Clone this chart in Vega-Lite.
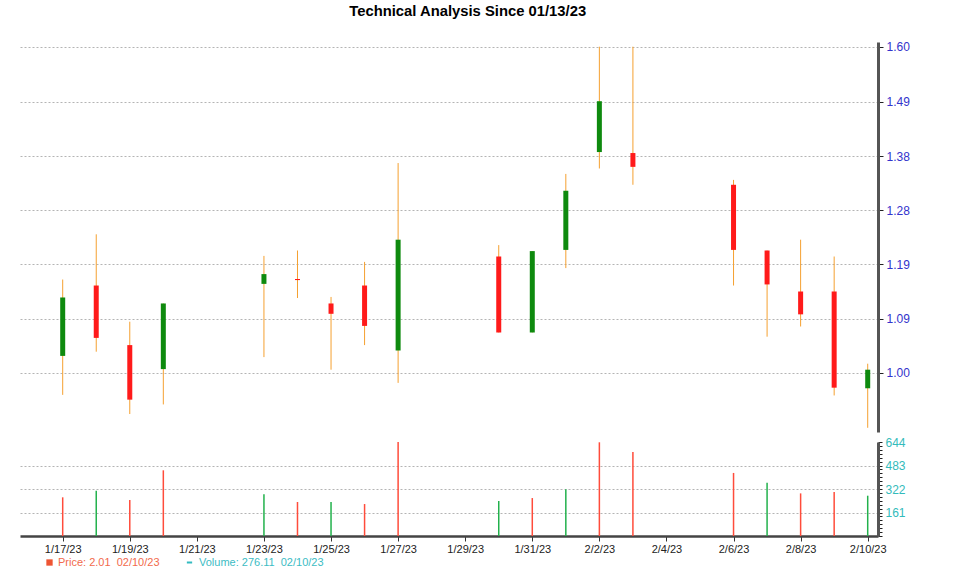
{
  "$schema": "https://vega.github.io/schema/vega-lite/v6.json",
  "background": "white",
  "padding": {"left": 20, "top": 3, "right": 10, "bottom": 6},
  "title": {"text": "Technical Analysis Since 01/13/23", "font": "Liberation Sans", "fontSize": 14.8, "fontWeight": "bold", "color": "#000000", "anchor": "middle", "dx": 3, "offset": 22},
  "config": {"font": "Liberation Sans", "view": {"stroke": null}},
  "spacing": 4,
  "datasets": {
    "candles": [
      {"date": "2023-01-17T00:00:00", "open": 1.028, "high": 1.162, "low": 0.963, "close": 1.129, "dir": "up", "vol": 265, "vdir": "down"},
      {"date": "2023-01-18T00:00:00", "open": 1.151, "high": 1.240, "low": 1.035, "close": 1.058, "dir": "down", "vol": 310, "vdir": "up"},
      {"date": "2023-01-19T00:00:00", "open": 1.046, "high": 1.085, "low": 0.931, "close": 0.955, "dir": "down", "vol": 247, "vdir": "down"},
      {"date": "2023-01-20T00:00:00", "open": 1.006, "high": 1.118, "low": 0.947, "close": 1.118, "dir": "up", "vol": 450, "vdir": "down"},
      {"date": "2023-01-23T00:00:00", "open": 1.154, "high": 1.204, "low": 1.026, "close": 1.172, "dir": "up", "vol": 286, "vdir": "up"},
      {"date": "2023-01-24T00:00:00", "open": 1.163, "high": 1.213, "low": 1.128, "close": 1.161, "dir": "down", "vol": 233, "vdir": "down"},
      {"date": "2023-01-25T00:00:00", "open": 1.118, "high": 1.130, "low": 1.005, "close": 1.099, "dir": "down", "vol": 233, "vdir": "up"},
      {"date": "2023-01-26T00:00:00", "open": 1.151, "high": 1.194, "low": 1.046, "close": 1.078, "dir": "down", "vol": 219, "vdir": "down"},
      {"date": "2023-01-27T00:00:00", "open": 1.037, "high": 1.367, "low": 0.983, "close": 1.231, "dir": "up", "vol": 644, "vdir": "down"},
      {"date": "2023-01-30T00:00:00", "open": 1.203, "high": 1.222, "low": 1.067, "close": 1.067, "dir": "down", "vol": 240, "vdir": "up"},
      {"date": "2023-01-31T00:00:00", "open": 1.067, "high": 1.212, "low": 1.067, "close": 1.212, "dir": "up", "vol": 260, "vdir": "down"},
      {"date": "2023-02-01T00:00:00", "open": 1.214, "high": 1.347, "low": 1.183, "close": 1.316, "dir": "up", "vol": 320, "vdir": "up"},
      {"date": "2023-02-02T00:00:00", "open": 1.388, "high": 1.600, "low": 1.357, "close": 1.491, "dir": "up", "vol": 642, "vdir": "down"},
      {"date": "2023-02-03T00:00:00", "open": 1.386, "high": 1.600, "low": 1.327, "close": 1.360, "dir": "down", "vol": 575, "vdir": "down"},
      {"date": "2023-02-06T00:00:00", "open": 1.327, "high": 1.336, "low": 1.151, "close": 1.214, "dir": "down", "vol": 432, "vdir": "down"},
      {"date": "2023-02-07T00:00:00", "open": 1.213, "high": 1.213, "low": 1.060, "close": 1.153, "dir": "down", "vol": 365, "vdir": "up"},
      {"date": "2023-02-08T00:00:00", "open": 1.140, "high": 1.231, "low": 1.077, "close": 1.098, "dir": "down", "vol": 292, "vdir": "down"},
      {"date": "2023-02-09T00:00:00", "open": 1.140, "high": 1.203, "low": 0.962, "close": 0.975, "dir": "down", "vol": 301, "vdir": "down"},
      {"date": "2023-02-10T00:00:00", "open": 0.974, "high": 1.015, "low": 0.908, "close": 1.005, "dir": "up", "vol": 276.11, "vdir": "up"}
    ]
  },
  "vconcat": [
    {
      "width": 858,
      "height": 390,
      "data": {"name": "candles"},
      "encoding": {
        "x": {"field": "date", "type": "temporal", "axis": null,
          "scale": {"domain": [{"year": 2023, "month": 1, "date": 15, "hours": 17, "minutes": 27}, {"year": 2023, "month": 2, "date": 10, "hours": 7, "minutes": 22}]}}
      },
      "layer": [
        {
          "mark": {"type": "rule", "color": "#f5a030", "strokeWidth": 1},
          "encoding": {
            "y": {"field": "low", "type": "quantitative",
              "scale": {"type": "linear", "nice": false, "zero": false,
                "domain": [0.901, 1.00, 1.09, 1.19, 1.28, 1.38, 1.49, 1.60, 1.6094],
                "range": [390, 330.7, 276.7, 222.3, 168.3, 114, 59.7, 4.7, 0]},
              "axis": {"orient": "right", "title": null, "values": [1.00, 1.09, 1.19, 1.28, 1.38, 1.49, 1.60], "format": ".2f",
                "domainColor": "#555555", "domainWidth": 3, "tickColor": "#222222", "tickSize": 5, "tickWidth": 1,
                "labelColor": "#3333cc", "labelFontSize": 12, "labelPadding": 3, "labelFont": "Liberation Sans",
                "grid": true, "gridColor": "#b4b4b4", "gridDash": [2, 2], "gridWidth": 1}},
            "y2": {"field": "high"}
          }
        },
        {
          "mark": {"type": "rule", "strokeWidth": 5},
          "encoding": {
            "y": {"field": "open", "type": "quantitative"},
            "y2": {"field": "close"},
            "color": {"condition": {"test": "datum.dir === 'up'", "value": "#0e8a0e"}, "value": "#ff1a1a"}
          }
        }
      ]
    },
    {
      "width": 858,
      "height": 94,
      "layer": [
        {
          "data": {"name": "candles"},
          "mark": {"type": "rule", "strokeWidth": 1.5},
          "encoding": {
            "x": {"field": "date", "type": "temporal",
              "scale": {"domain": [{"year": 2023, "month": 1, "date": 15, "hours": 17, "minutes": 27}, {"year": 2023, "month": 2, "date": 10, "hours": 7, "minutes": 22}]},
              "axis": {"title": null, "format": "%-m/%-d/%y",
                "values": [
                  {"year": 2023, "month": 1, "date": 17}, {"year": 2023, "month": 1, "date": 19}, {"year": 2023, "month": 1, "date": 21},
                  {"year": 2023, "month": 1, "date": 23}, {"year": 2023, "month": 1, "date": 25}, {"year": 2023, "month": 1, "date": 27},
                  {"year": 2023, "month": 1, "date": 29}, {"year": 2023, "month": 1, "date": 31}, {"year": 2023, "month": 2, "date": 2},
                  {"year": 2023, "month": 2, "date": 4}, {"year": 2023, "month": 2, "date": 6}, {"year": 2023, "month": 2, "date": 8},
                  {"year": 2023, "month": 2, "date": 10}],
                "domainColor": "#444444", "domainWidth": 2.5, "tickColor": "#333333", "tickSize": 5, "tickWidth": 1,
                "labelColor": "#222222", "labelFontSize": 11, "labelPadding": 2, "labelFlush": false, "labelFont": "Liberation Sans", "grid": false}},
            "y": {"field": "vol", "type": "quantitative",
              "scale": {"domain": [0, 644], "nice": false},
              "axis": {"orient": "right", "title": null,
                "values": [0, 26.83, 53.67, 80.5, 107.33, 134.17, 161, 187.83, 214.67, 241.5, 268.33, 295.17, 322, 348.83, 375.67, 402.5, 429.33, 456.17, 483, 509.83, 536.67, 563.5, 590.33, 617.17, 644],
                "labelExpr": "indexof([161, 322, 483, 644], datum.value) >= 0 ? datum.label : ''",
                "domainColor": "#555555", "domainWidth": 3, "tickColor": "#222222", "tickSize": 4, "tickWidth": 1,
                "labelColor": "#33bbbb", "labelFontSize": 12, "labelPadding": 3, "labelFont": "Liberation Sans",
                "grid": true, "gridColor": "#b4b4b4", "gridDash": [2, 2], "gridWidth": 1,
                "gridOpacity": {"condition": {"test": "indexof([161, 322, 483], datum.value) >= 0", "value": 1}, "value": 0}}},
            "y2": {"datum": 0},
            "color": {"condition": {"test": "datum.vdir === 'up'", "value": "#22b14c"}, "value": "#ff4c3b"}
          }
        },
        {
          "data": {"values": [{"series": "Price: 2.01\u00a0\u00a002/10/23"}]},
          "mark": {"type": "point", "filled": true, "opacity": 0, "size": 40},
          "encoding": {
            "color": {"field": "series", "type": "nominal",
              "scale": {"range": ["#ee5533"]},
              "legend": {"title": null, "orient": "none", "legendX": 24, "legendY": 515,
                "labelFontSize": 11, "labelFont": "Liberation Sans", "labelColor": "#f26a4c", "labelOffset": 3,
                "symbolType": "square", "symbolSize": 40, "symbolOpacity": 1}}
          }
        },
        {
          "data": {"values": [{"vseries": "Volume: 276.11\u00a0\u00a002/10/23"}]},
          "mark": {"type": "point", "filled": false, "opacity": 0, "size": 28, "strokeWidth": 2, "color": "#33bbc0"},
          "encoding": {
            "shape": {"field": "vseries", "type": "nominal",
              "scale": {"range": ["stroke"]},
              "legend": {"title": null, "orient": "none", "legendX": 164, "legendY": 515,
                "labelFontSize": 11, "labelFont": "Liberation Sans", "labelColor": "#3cbcc4", "labelOffset": 4,
                "symbolSize": 28, "symbolOpacity": 1, "symbolStrokeWidth": 2, "symbolStrokeColor": "#33bbc0"}}
          }
        }
      ]
    }
  ]
}
